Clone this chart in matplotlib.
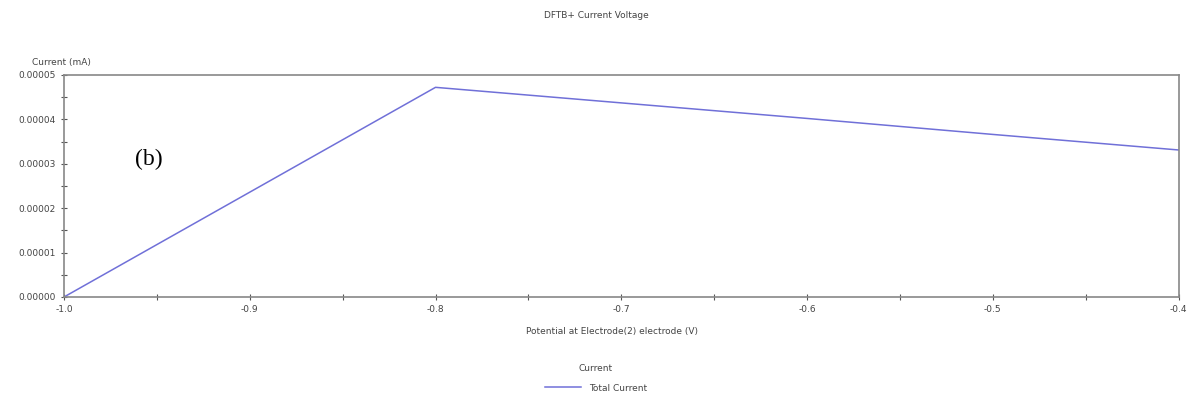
import matplotlib
matplotlib.use("Agg")
import matplotlib.pyplot as plt
import numpy as np

potential = [-1.0, -0.8, -0.7, -0.6, -0.5, -0.4]
current = [0.0, 0.0000472, 0.0000437, 0.0000402, 0.0000366, 0.0000331]
xticks = [-1.0, -0.9, -0.8, -0.7, -0.6, -0.5, -0.4]
yticks = [0.0, 0.00001, 0.00002, 0.00003, 0.00004, 0.00005]

grey = '#555555'
txt = '#444444'

fig = plt.figure(figsize=(11.92, 3.98), dpi=100)
ax = fig.add_axes([0.0537, 0.2538, 0.935, 0.558])
line, = ax.plot(potential, current, color='#7070d8', linewidth=1.1, label='Total Current')

ax.set_xlim(-1.0, -0.4)
ax.set_ylim(0, 0.00005)
ax.set_xticks(xticks)
ax.set_xticklabels(['%.1f' % v for v in xticks])
ax.set_xticks(np.array(xticks[:-1]) + 0.05, minor=True)
ax.set_yticks(yticks)
ax.set_yticklabels(['%.5f' % v for v in yticks])
ax.set_yticks(np.array(yticks[:-1]) + 0.000005, minor=True)
ax.tick_params(axis='both', which='both', direction='inout', colors=grey, labelcolor=txt, labelsize=6.5)
ax.tick_params(which='major', length=5, width=0.8)
ax.tick_params(which='minor', length=5, width=0.8)
for s in ax.spines.values():
    s.set_color('#888888')
    s.set_linewidth(1.2)

fig.text(0.5, 0.962, 'DFTB+ Current Voltage', ha='center', va='center', fontsize=6.5, color=txt)
fig.text(0.027, 0.842, 'Current (mA)', ha='left', va='center', fontsize=6.5, color=txt)
ax.set_xlabel('Potential at Electrode(2) electrode (V)', fontsize=6.5, color=txt, labelpad=10)
ax.xaxis.set_label_coords(0.492, -0.135)
fig.text(0.113, 0.60, '(b)', fontsize=17, family='Liberation Serif', color='black', ha='left', va='center')

leg = fig.legend(handles=[line], title='Current', loc='center', bbox_to_anchor=(0.5, 0.05),
                 frameon=False, fontsize=6.5, title_fontsize=6.5, handlelength=4, labelspacing=1.2)
for t in leg.get_texts():
    t.set_color(txt)
leg.get_title().set_color(txt)

fig.savefig('out.png', dpi=100)
